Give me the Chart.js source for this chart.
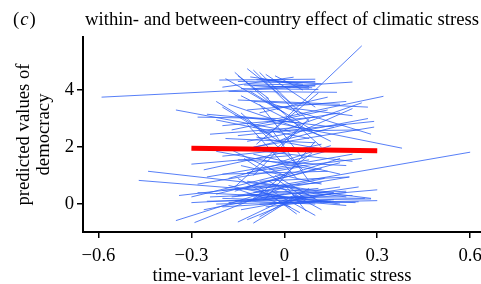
<!DOCTYPE html>
<html>
<head>
<meta charset="utf-8">
<script src="https://cdn.jsdelivr.net/npm/chart.js@4"></script>
<style>
  html, body { margin: 0; padding: 0; background: #fff; }
  #wrap { width: 481px; height: 284px; }
</style>
</head>
<body>
<div id="wrap"><canvas id="chart"></canvas></div>
<script>
// each row: [x start, y start, x end, y end] for one country's slope
const topSegs = [
  [-0.59, 3.75, 0.02, 4.08],
  [-0.21, 4.35, 0.10, 4.38],
  [-0.15, 4.30, 0.10, 4.25],
  [-0.12, 4.22, 0.10, 4.16],
  [-0.10, 4.15, 0.09, 4.08],
  [-0.08, 4.40, 0.08, 4.12],
  [-0.14, 4.05, 0.11, 4.02],
  [-0.06, 4.28, 0.10, 4.30],
  [-0.11, 4.46, 0.06, 4.20],
  [-0.04, 4.10, 0.10, 4.14],
  [-0.18, 3.95, 0.17, 3.92],
  [-0.09, 4.36, 0.12, 4.22],
  [-0.13, 4.18, 0.08, 4.06],
  [-0.16, 4.62, -0.02, 3.30],
  [-0.12, 4.75, 0.02, 3.55],
  [-0.10, 4.70, 0.05, 3.10],
  [-0.15, 4.50, -0.05, 3.70],
  [-0.08, 4.62, 0.08, 2.90],
  [-0.19, 4.40, 0.00, 3.20],
  [-0.06, 4.55, 0.10, 3.40],
  [-0.10, 4.05, 0.22, 4.28],
  [-0.05, 2.45, 0.25, 5.55],
  [-0.20, 4.10, 0.03, 4.45],
  [-0.03, 4.50, 0.06, 4.00]
];
const midSegs = [
  [-0.35, 3.30, 0.02, 2.55],
  [-0.02, 3.00, 0.32, 3.78],
  [-0.10, 3.60, 0.27, 3.40],
  [-0.15, 2.40, 0.29, 2.90],
  [-0.10, 2.00, 0.29, 2.70],
  [-0.05, 2.90, 0.38, 1.96],
  [-0.12, 2.20, 0.27, 3.00],
  [-0.08, 2.55, 0.24, 2.60],
  [-0.25, 3.15, 0.05, 2.85],
  [-0.20, 2.75, 0.10, 3.05],
  [-0.18, 3.50, 0.12, 2.40],
  [-0.14, 3.80, 0.15, 2.20],
  [-0.22, 2.95, 0.08, 2.30],
  [-0.17, 2.60, 0.14, 3.30],
  [-0.12, 3.30, 0.20, 3.60],
  [-0.06, 3.75, 0.12, 2.00],
  [-0.20, 3.40, 0.00, 2.10],
  [-0.10, 2.70, 0.18, 3.20],
  [-0.04, 3.45, 0.22, 3.10],
  [-0.24, 2.45, 0.06, 2.70],
  [-0.13, 1.90, 0.20, 2.80],
  [-0.16, 3.10, 0.16, 2.70],
  [-0.08, 3.20, 0.14, 3.75],
  [-0.02, 2.20, 0.22, 3.35],
  [-0.28, 3.05, -0.02, 3.00],
  [-0.11, 3.95, 0.09, 2.60],
  [-0.05, 3.55, 0.28, 2.45],
  [-0.19, 2.30, 0.10, 2.15],
  [0.00, 2.60, 0.25, 3.55],
  [-0.15, 3.65, 0.18, 3.50],
  [-0.09, 2.35, 0.16, 1.85],
  [-0.22, 3.60, -0.04, 2.40],
  [-0.14, 3.20, 0.06, 1.20],
  [-0.12, 2.80, 0.04, 0.90],
  [-0.08, 3.50, 0.06, 1.60],
  [-0.04, 2.60, 0.08, 0.80],
  [-0.09, 2.10, 0.11, 3.90]
];
const lowMidSegs = [
  [-0.20, 1.68, 0.05, 1.95],
  [-0.26, 1.20, 0.12, 2.10],
  [-0.18, 0.90, 0.15, 1.90],
  [-0.12, 1.10, 0.22, 1.75],
  [-0.22, 1.85, 0.10, 1.20],
  [-0.15, 1.55, 0.20, 1.35],
  [-0.30, 1.40, 0.02, 1.70],
  [-0.10, 1.75, 0.18, 1.05],
  [-0.08, 0.80, 0.21, 0.95],
  [-0.25, 0.95, 0.08, 1.55],
  [-0.14, 1.35, 0.12, 0.70],
  [-0.05, 1.20, 0.25, 1.60],
  [-0.18, 1.95, 0.00, 1.00],
  [-0.12, 0.60, 0.18, 1.45],
  [-0.28, 0.70, 0.05, 1.30],
  [-0.02, 1.45, 0.15, 2.05],
  [-0.20, 1.05, 0.14, 1.15],
  [-0.07, 1.85, 0.22, 1.50],
  [-0.44, 1.15, 0.05, 0.55],
  [-0.47, 0.83, 0.08, 0.35],
  [-0.10, 0.50, 0.60, 1.82],
  [-0.16, 0.45, 0.18, 1.60],
  [-0.22, 0.35, 0.12, 1.25],
  [-0.30, 0.25, 0.02, 1.10],
  [-0.10, 1.00, 0.08, 3.00],
  [-0.16, 0.60, 0.04, 2.60],
  [-0.06, 0.20, 0.10, 2.20],
  [-0.13, 1.60, 0.07, 0.20],
  [-0.11, 0.10, 0.09, 1.80]
];
const lowSegs = [
  [-0.35, -0.58, -0.05, 0.45],
  [-0.29, -0.65, 0.00, 0.60],
  [-0.15, -0.63, 0.05, 0.40],
  [-0.10, -0.67, 0.08, 0.55],
  [-0.12, -0.55, 0.06, 0.25],
  [-0.08, -0.45, 0.04, 0.30],
  [-0.20, 0.20, 0.23, 0.05],
  [-0.25, 0.10, 0.28, 0.18],
  [-0.18, 0.05, 0.30, 0.50],
  [-0.15, 0.30, 0.21, 0.95],
  [-0.12, 0.15, 0.18, 0.60],
  [-0.22, 0.00, 0.15, 0.10],
  [-0.28, 0.40, 0.10, 0.20],
  [-0.10, 0.65, 0.20, 0.25],
  [-0.05, 0.80, 0.12, -0.20],
  [0.00, 0.70, 0.07, -0.25],
  [-0.04, 0.45, 0.10, -0.40],
  [-0.16, 0.55, 0.02, -0.10],
  [-0.08, 0.00, 0.24, 0.08],
  [-0.20, -0.10, 0.16, 0.15],
  [-0.24, 0.25, 0.20, 0.45],
  [-0.06, 0.35, 0.18, 0.00],
  [-0.14, -0.20, 0.14, 0.35],
  [-0.30, 0.05, 0.05, 0.25],
  [-0.02, 0.20, 0.22, 0.30],
  [-0.18, 0.65, 0.08, 0.05],
  [-0.10, 0.25, 0.26, 0.20],
  [-0.26, -0.20, 0.00, 0.35],
  [-0.12, 0.80, 0.16, 0.40],
  [0.02, 0.55, 0.28, 0.20],
  [-0.20, 0.48, 0.12, 0.75],
  [-0.06, -0.10, 0.12, 0.12],
  [0.04, 0.10, 0.20, -0.05],
  [-0.16, 0.12, 0.10, 0.00],
  [-0.34, 0.30, -0.02, 0.70],
  [0.05, 0.30, 0.24, 0.60],
  [-0.08, 0.60, 0.04, -0.35],
  [-0.15, 0.90, 0.05, -0.30],
  [-0.05, 0.00, 0.15, 0.35],
  [-0.12, 0.35, 0.14, 0.10],
  [-0.07, 0.15, 0.20, 0.40],
  [-0.17, 0.25, 0.11, 0.55],
  [-0.02, 0.05, 0.30, 0.12],
  [-0.10, 0.40, 0.13, 0.90],
  [-0.03, 1.00, 0.12, 0.05]
];

// pooled between-country effect
const pooledX = [-0.3, 0.3];
const pooledY = [1.96, 1.87];

const xTickVals = [-0.6, -0.3, 0, 0.3, 0.6];
const xTickLabels = ['\u22120.6', '\u22120.3', '0', '0.3', '0.6'];
const yTickVals = [0, 2, 4];
const yTickLabels = ['0', '2', '4'];

const serif = '"Liberation Serif", "Times New Roman", serif';
const fs = 18.7;

const datasets = [{
  data: pooledX.map((x, i) => ({ x: x, y: pooledY[i] })),
  borderColor: '#ff0000',
  borderWidth: 5,
  borderCapStyle: 'butt',
  pointRadius: 0,
  showLine: true
}];
[...topSegs, ...midSegs, ...lowMidSegs, ...lowSegs].forEach(s => {
  datasets.push({
    data: [{ x: s[0], y: s[1] }, { x: s[2], y: s[3] }],
    borderColor: 'rgba(45, 95, 245, 0.8)',
    borderWidth: 1,
    pointRadius: 0,
    showLine: true
  });
});

const headerText = {
  id: 'headerText',
  afterDraw(chart) {
    const ctx = chart.ctx;
    const base = 25;
    ctx.save();
    ctx.fillStyle = '#000';
    ctx.textBaseline = 'alphabetic';
    ctx.font = fs + 'px ' + serif;
    ctx.fillText('(', 13, base);
    let w = ctx.measureText('(').width;
    ctx.font = 'italic ' + fs + 'px ' + serif;
    ctx.fillText('c', 13 + w + 1, base);
    w += ctx.measureText('c').width + 2;
    ctx.font = fs + 'px ' + serif;
    ctx.fillText(')', 13 + w, base);
    ctx.fillText('within- and between-country effect of climatic stress', 85, base);
    ctx.restore();
  }
};

new Chart(document.getElementById('chart'), {
  type: 'scatter',
  data: { datasets: datasets },
  options: {
    responsive: true,
    maintainAspectRatio: false,
    animation: false,
    layout: { padding: { top: 37, left: 0, right: 0, bottom: 0 } },
    plugins: { legend: { display: false }, tooltip: { enabled: false } },
    scales: {
      x: {
        type: 'linear',
        min: -0.65,
        max: 0.635,
        afterBuildTicks: s => { s.ticks = xTickVals.map(v => ({ value: v })); },
        afterFit: s => { s.height = 52; s.paddingLeft = 0; s.paddingRight = 0; },
        ticks: {
          callback: (v, i) => xTickLabels[i],
          color: '#000',
          font: { family: serif, size: fs },
          padding: 7,
          maxRotation: 0
        },
        grid: { drawOnChartArea: false, tickLength: 6, color: '#000', lineWidth: 1.5 },
        border: { color: '#000', width: 2 },
        title: {
          display: true,
          text: 'time-variant level-1 climatic stress',
          color: '#000',
          font: { family: serif, size: fs },
          padding: { top: 0, bottom: -3 }
        }
      },
      y: {
        type: 'linear',
        min: -0.98,
        max: 5.86,
        afterBuildTicks: s => { s.ticks = yTickVals.map(v => ({ value: v })); },
        afterFit: s => { s.width = 83; },
        ticks: {
          callback: (v, i) => yTickLabels[i],
          color: '#000',
          font: { family: serif, size: fs },
          padding: 3
        },
        grid: { drawOnChartArea: false, tickLength: 6, color: '#000', lineWidth: 1.5 },
        border: { color: '#000', width: 2 },
        title: {
          display: true,
          text: ['predicted values of', 'democracy'],
          color: '#000',
          font: { family: serif, size: fs, lineHeight: 1.1 },
          padding: { top: 13.5, bottom: 0 }
        }
      }
    }
  },
  plugins: [headerText]
});
</script>
</body>
</html>
